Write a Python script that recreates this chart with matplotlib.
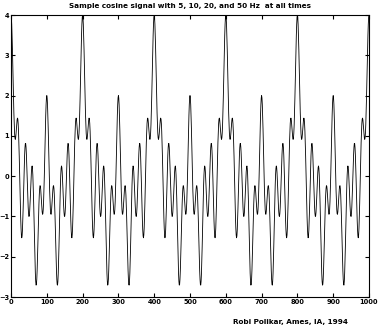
import numpy as np
import matplotlib
matplotlib.use("Agg")
import matplotlib.pyplot as plt

# Frequencies (Hz) read from the title; signal = sum of cosines at these frequencies
frequencies = [5, 10, 20, 50]
sample_rate = 1000          # samples per second
n_samples = 1001            # sample indices 0..1000
x_ticks = [0, 100, 200, 300, 400, 500, 600, 700, 800, 900, 1000]
y_ticks = [-3, -2, -1, 0, 1, 2, 3, 4]
title_text = "Sample cosine signal with 5, 10, 20, and 50 Hz  at all times"
footer_text = "Robi Polikar, Ames, IA, 1994"

n = np.arange(n_samples)
t = n / sample_rate
signal = np.zeros_like(t)
for f in frequencies:
    signal = signal + np.cos(2 * np.pi * f * t)

fig = plt.figure(figsize=(3.80, 3.29), dpi=100)
ax = fig.add_axes([11/380, 1 - 297/329, (369 - 11)/380, (297 - 15)/329])
ax.plot(n, signal, color="black", linewidth=0.6)
ax.set_xlim(0, 1000)
ax.set_ylim(-3, 4)
ax.set_xticks(x_ticks)
ax.set_yticks(y_ticks)
ax.tick_params(direction="in", top=True, right=True, length=3, width=0.8,
               labelsize=4.8, pad=1.5)
for lab in ax.get_xticklabels() + ax.get_yticklabels():
    lab.set_fontweight("bold")
for s in ax.spines.values():
    s.set_linewidth(0.8)
fig.text(190/380, 1 - 6/329, title_text, ha="center", va="center",
         fontsize=5.2, fontweight="bold")
fig.text(290/380, 1 - 322/329, footer_text, ha="center", va="center",
         fontsize=5.2, fontweight="bold")
fig.savefig("out.png", dpi=100, facecolor="white")
